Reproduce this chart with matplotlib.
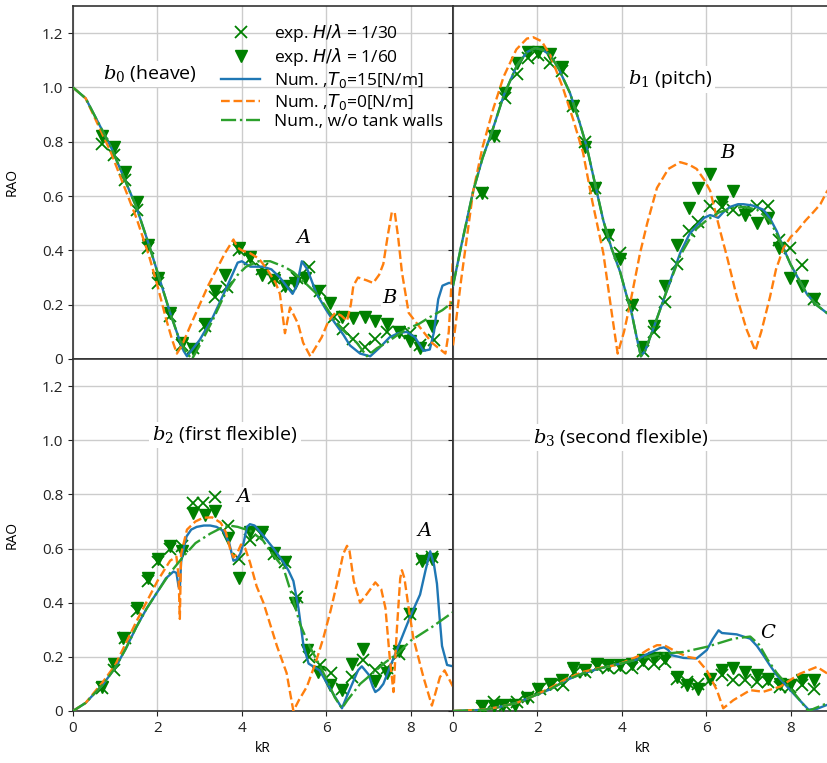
import matplotlib
matplotlib.use("Agg")
import matplotlib.pyplot as plt
import numpy as np

plt.rcParams['font.family'] = ['Open Sans', 'DejaVu Sans']

# ---------- b0 (heave) ----------
b0_blue_x = [0, 0.3, 0.6, 0.9, 1.2, 1.5, 1.8, 2.1, 2.3, 2.5, 2.62, 2.7, 2.8, 3.0, 3.3, 3.6, 3.8, 3.9, 4.0, 4.2, 4.5,
             4.7, 4.9, 5.1, 5.2, 5.3, 5.42, 5.55, 5.77, 6.0, 6.17, 6.4, 6.56, 6.8, 7.04, 7.25, 7.5, 7.7, 7.9, 8.1,
             8.3, 8.45, 8.55, 8.65, 8.75, 8.9, 9.0]
b0_blue_y = [1.0, 0.96, 0.87, 0.78, 0.67, 0.56, 0.42, 0.27, 0.17, 0.08, 0.03, 0.01, 0.03, 0.07, 0.15, 0.25, 0.32,
             0.355, 0.36, 0.34, 0.34, 0.33, 0.30, 0.26, 0.24, 0.27, 0.36, 0.33, 0.24, 0.18, 0.14, 0.09, 0.05, 0.02,
             0.01, 0.04, 0.08, 0.095, 0.10, 0.08, 0.03, 0.035, 0.10, 0.22, 0.27, 0.28, 0.28]
b0_orange_x = [0, 0.3, 0.6, 0.9, 1.2, 1.5, 1.8, 2.0, 2.2, 2.35, 2.46, 2.58, 2.8, 3.0, 3.2, 3.4, 3.6, 3.8, 3.9, 4.0,
               4.19, 4.4, 4.6, 4.8, 4.9, 5.02, 5.14, 5.33, 5.45, 5.62, 5.89, 6.05, 6.21, 6.35, 6.49, 6.58, 6.64,
               6.75, 6.95, 7.11, 7.25, 7.35, 7.45, 7.55, 7.62, 7.7, 7.79, 7.95, 8.1, 8.3, 8.5, 8.62, 8.82, 8.9, 9.0]
b0_orange_y = [1.0, 0.96, 0.86, 0.76, 0.64, 0.52, 0.38, 0.27, 0.15, 0.07, 0.02, 0.05, 0.13, 0.2, 0.27, 0.33, 0.39,
               0.44, 0.41, 0.40, 0.39, 0.37, 0.33, 0.28, 0.24, 0.095, 0.19, 0.13, 0.06, 0.01, 0.08, 0.14, 0.17,
               0.16, 0.14, 0.2, 0.27, 0.30, 0.29, 0.28, 0.31, 0.35, 0.45, 0.54, 0.54, 0.45, 0.32, 0.17, 0.14, 0.10,
               0.06, 0.045, 0.02, 0.1, 0.38]
b0_green_x = [0, 0.3, 0.6, 0.9, 1.2, 1.5, 1.8, 2.1, 2.3, 2.5, 2.7, 2.82, 3.0, 3.3, 3.6, 3.9, 4.1, 4.4, 4.67, 5.0,
              5.22, 5.5, 5.77, 6.0, 6.25, 6.5, 6.72, 6.96, 7.2, 7.43, 7.7, 7.9, 8.2, 8.46, 8.75, 9.0]
b0_green_y = [1.0, 0.96, 0.87, 0.78, 0.67, 0.56, 0.42, 0.27, 0.17, 0.08, 0.02, 0.0, 0.05, 0.14, 0.24, 0.31, 0.34,
              0.36, 0.36, 0.34, 0.32, 0.28, 0.24, 0.19, 0.13, 0.09, 0.06, 0.01, 0.04, 0.06, 0.09, 0.11, 0.13,
              0.155, 0.18, 0.21]
b0_tri_x = [0.68, 0.96, 1.23, 1.51, 1.78, 2.02, 2.3, 2.58, 2.85, 3.13, 3.36, 3.6, 3.92, 4.19, 4.47, 4.75, 5.02,
            5.26, 5.5, 5.81, 6.09, 6.37, 6.64, 6.92, 7.16, 7.43, 7.71, 7.99, 8.22, 8.5]
b0_tri_y = [0.82, 0.78, 0.69, 0.58, 0.42, 0.30, 0.17, 0.06, 0.035, 0.13, 0.25, 0.31, 0.41, 0.376, 0.31, 0.29,
            0.27, 0.28, 0.30, 0.25, 0.205, 0.155, 0.15, 0.155, 0.14, 0.13, 0.10, 0.065, 0.04, 0.12]
b0_x_x = [0.68, 0.96, 1.23, 1.51, 1.78, 2.02, 2.3, 2.58, 2.85, 3.13, 3.36, 3.64, 3.92, 4.19, 4.47, 4.75, 5.06,
          5.3, 5.58, 5.86, 6.17, 6.4, 6.64, 6.92, 7.16, 7.43, 7.71, 7.99, 8.22, 8.54]
b0_x_y = [0.79, 0.75, 0.66, 0.55, 0.41, 0.28, 0.16, 0.05, 0.04, 0.12, 0.23, 0.265, 0.40, 0.37, 0.33, 0.30, 0.27,
          0.30, 0.34, 0.25, 0.155, 0.11, 0.075, 0.045, 0.075, 0.10, 0.10, 0.095, 0.05, 0.07]

# ---------- b1 (pitch) ----------
b1_blue_x = [0, 0.2, 0.48, 0.7, 0.95, 1.2, 1.51, 1.75, 1.94, 2.1, 2.3, 2.5, 2.77, 3.0, 3.17, 3.4, 3.56, 3.75, 3.96,
             4.1, 4.23, 4.35, 4.45, 4.55, 4.74, 5.06, 5.38, 5.6, 5.77, 5.95, 6.09, 6.2, 6.28, 6.4, 6.56, 6.75,
             6.88, 7.1, 7.35, 7.5, 7.67, 7.85, 7.99, 8.2, 8.38, 8.6, 8.85, 9.0]
b1_blue_y = [0.27, 0.42, 0.62, 0.74, 0.85, 0.97, 1.08, 1.13, 1.145, 1.14, 1.12, 1.07, 0.98, 0.87, 0.78, 0.62, 0.51,
             0.41, 0.32, 0.24, 0.17, 0.08, 0.01, 0.03, 0.11, 0.25, 0.39, 0.46, 0.49, 0.52, 0.53, 0.525, 0.52,
             0.54, 0.56, 0.57, 0.57, 0.565, 0.55, 0.52, 0.47, 0.40, 0.35, 0.29, 0.24, 0.20, 0.17, 0.15]
b1_orange_x = [0, 0.2, 0.48, 0.7, 0.95, 1.2, 1.5, 1.75, 1.9, 2.1, 2.3, 2.6, 2.85, 3.08, 3.3, 3.56, 3.75, 3.9, 4.05,
               4.19, 4.43, 4.6, 4.83, 5.1, 5.38, 5.6, 5.77, 5.95, 6.09, 6.2, 6.33, 6.5, 6.72, 6.95, 7.16, 7.3,
               7.51, 7.65, 7.83, 8.0, 8.14, 8.35, 8.53, 8.7, 8.85, 9.0]
b1_orange_y = [0.05, 0.3, 0.62, 0.78, 0.92, 1.04, 1.14, 1.18, 1.185, 1.17, 1.12, 1.0, 0.88, 0.76, 0.58, 0.39, 0.18,
               0.02, 0.1, 0.2, 0.39, 0.5, 0.63, 0.7, 0.725, 0.715, 0.70, 0.66, 0.62, 0.55, 0.47, 0.37, 0.23, 0.11,
               0.03, 0.1, 0.23, 0.33, 0.41, 0.45, 0.47, 0.51, 0.54, 0.57, 0.615, 0.65]
b1_green_x = [0, 0.2, 0.48, 0.7, 0.95, 1.2, 1.51, 1.75, 1.94, 2.1, 2.3, 2.5, 2.77, 3.0, 3.17, 3.4, 3.56, 3.75, 3.96,
              4.1, 4.23, 4.35, 4.45, 4.55, 4.74, 5.06, 5.38, 5.6, 5.77, 6.0, 6.3, 6.6, 6.9, 7.2, 7.5, 7.67, 7.85,
              7.99, 8.2, 8.38, 8.6, 8.85, 9.0]
b1_green_y = [0.27, 0.42, 0.62, 0.74, 0.85, 0.97, 1.08, 1.13, 1.145, 1.14, 1.12, 1.07, 0.98, 0.87, 0.78, 0.62, 0.51,
              0.41, 0.32, 0.24, 0.17, 0.08, 0.01, 0.03, 0.11, 0.25, 0.38, 0.44, 0.48, 0.51, 0.54, 0.555, 0.56,
              0.55, 0.51, 0.46, 0.40, 0.35, 0.29, 0.24, 0.20, 0.17, 0.15]
b1_tri_x = [0.68, 0.96, 1.23, 1.51, 1.78, 2.02, 2.3, 2.58, 2.85, 3.13, 3.36, 3.67, 3.96, 4.23, 4.51, 4.75, 5.02,
            5.3, 5.58, 5.81, 6.09, 6.37, 6.64, 6.92, 7.2, 7.47, 7.71, 7.99, 8.26, 8.54]
b1_tri_y = [0.61, 0.82, 0.98, 1.09, 1.13, 1.13, 1.125, 1.075, 0.93, 0.78, 0.63, 0.455, 0.37, 0.2, 0.045, 0.12,
            0.27, 0.42, 0.555, 0.63, 0.68, 0.58, 0.62, 0.53, 0.50, 0.52, 0.41, 0.30, 0.27, 0.22]
b1_x_x = b1_tri_x
b1_x_y = [0.61, 0.82, 0.96, 1.05, 1.11, 1.12, 1.09, 1.06, 0.93, 0.80, 0.63, 0.455, 0.39, 0.2, 0.03, 0.10, 0.21,
          0.35, 0.47, 0.505, 0.565, 0.56, 0.55, 0.55, 0.565, 0.565, 0.44, 0.41, 0.345, 0.22]

# ---------- b2 (first flexible) ----------
b2_blue_x = [0, 0.3, 0.72, 1.0, 1.25, 1.5, 1.75, 2.0, 2.2, 2.38, 2.45, 2.5, 2.53, 2.56, 2.62, 2.69, 2.8, 2.93, 3.1,
             3.25, 3.4, 3.56, 3.7, 3.8, 3.88, 3.96, 4.04, 4.12, 4.19, 4.3, 4.51, 4.75, 4.98, 5.1, 5.22, 5.34,
             5.46, 5.58, 5.84, 6.11, 6.37, 6.5, 6.64, 6.75, 6.84, 6.92, 7.0, 7.1, 7.16, 7.25, 7.35, 7.5, 7.67,
             7.99, 8.22, 8.35, 8.46, 8.55, 8.62, 8.68, 8.74, 8.86, 9.0]
b2_blue_y = [0, 0.03, 0.10, 0.16, 0.23, 0.31, 0.38, 0.44, 0.49, 0.515, 0.51, 0.46, 0.45, 0.55, 0.60, 0.645, 0.67,
             0.68, 0.685, 0.685, 0.68, 0.665, 0.62, 0.555, 0.56, 0.58, 0.62, 0.68, 0.69, 0.685, 0.647, 0.60, 0.55,
             0.52, 0.48, 0.38, 0.24, 0.175, 0.15, 0.077, 0.01, 0.06, 0.11, 0.15, 0.165, 0.15, 0.135, 0.09, 0.07,
             0.08, 0.10, 0.16, 0.225, 0.35, 0.43, 0.52, 0.59, 0.54, 0.47, 0.35, 0.24, 0.17, 0.165]
b2_orange_x = [0, 0.3, 0.72, 1.0, 1.5, 2.0, 2.3, 2.45, 2.5, 2.53, 2.56, 2.7, 2.9, 3.09, 3.3, 3.5, 3.62, 3.72, 3.8,
               3.88, 3.98, 4.08, 4.19, 4.35, 4.51, 4.67, 4.83, 5.06, 5.15, 5.22, 5.35, 5.54, 5.75, 5.93, 6.1, 6.25,
               6.4, 6.49, 6.55, 6.65, 6.8, 6.95, 7.16, 7.3, 7.4, 7.5, 7.59, 7.67, 7.75, 7.79, 7.85, 7.95, 8.06,
               8.3, 8.5, 8.69, 8.8, 9.0]
b2_orange_y = [0, 0.03, 0.11, 0.17, 0.33, 0.48, 0.555, 0.57, 0.50, 0.34, 0.58, 0.67, 0.70, 0.714, 0.715, 0.695,
               0.66, 0.60, 0.567, 0.58, 0.615, 0.60, 0.55, 0.46, 0.40, 0.32, 0.24, 0.14, 0.06, 0.0, 0.04, 0.09,
               0.18, 0.27, 0.37, 0.47, 0.58, 0.61, 0.59, 0.48, 0.40, 0.43, 0.475, 0.45, 0.38, 0.2, 0.07, 0.3,
               0.49, 0.52, 0.49, 0.38, 0.27, 0.125, 0.02, 0.125, 0.15, 0.09]
b2_green_x = [0, 0.3, 0.72, 1.0, 1.25, 1.5, 1.75, 2.0, 2.3, 2.61, 2.9, 3.25, 3.5, 3.7, 3.9, 4.2, 4.5, 4.67, 4.98,
              5.2, 5.38, 5.6, 5.77, 6.0, 6.2, 6.37, 6.5, 6.8, 7.1, 7.4, 7.67, 8.0, 8.5, 9.0]
b2_green_y = [0, 0.03, 0.10, 0.16, 0.23, 0.31, 0.38, 0.44, 0.51, 0.57, 0.62, 0.655, 0.675, 0.685, 0.68, 0.665,
              0.63, 0.59, 0.53, 0.42, 0.32, 0.24, 0.19, 0.12, 0.05, 0.01, 0.04, 0.10, 0.14, 0.18, 0.21, 0.26,
              0.31, 0.365]
b2_tri_x = [0.68, 0.96, 1.19, 1.51, 1.78, 2.02, 2.3, 2.58, 2.85, 3.13, 3.36, 3.68, 3.92, 4.19, 4.47, 4.75, 5.02,
            5.26, 5.54, 5.81, 6.09, 6.37, 6.6, 6.88, 7.16, 7.43, 7.71, 7.99, 8.26, 8.5]
b2_tri_y = [0.09, 0.175, 0.27, 0.38, 0.49, 0.56, 0.61, 0.59, 0.73, 0.725, 0.74, 0.64, 0.49, 0.66, 0.66, 0.585,
            0.55, 0.40, 0.225, 0.145, 0.095, 0.077, 0.175, 0.23, 0.11, 0.14, 0.22, 0.36, 0.555, 0.56]
b2_x_x = [0.68, 0.96, 1.23, 1.51, 1.78, 2.02, 2.3, 2.58, 2.85, 3.09, 3.36, 3.68, 3.92, 4.19, 4.47, 4.75, 5.02,
          5.3, 5.58, 5.86, 6.1, 6.37, 6.6, 6.88, 7.16, 7.43, 7.71, 7.99, 8.26, 8.5]
b2_x_y = [0.085, 0.15, 0.27, 0.37, 0.48, 0.55, 0.60, 0.61, 0.77, 0.77, 0.79, 0.685, 0.56, 0.63, 0.65, 0.58, 0.55,
          0.42, 0.20, 0.17, 0.14, 0.08, 0.125, 0.19, 0.15, 0.16, 0.21, 0.36, 0.56, 0.57]

# ---------- b3 (second flexible) ----------
b3_blue_x = [0, 0.72, 1.1, 1.51, 1.9, 2.3, 2.7, 3.09, 3.5, 3.88, 4.35, 4.6, 4.9, 5.0, 5.1, 5.18, 5.46, 5.77, 6.01,
             6.15, 6.29, 6.37, 6.72, 7.04, 7.2, 7.35, 7.5, 7.67, 8.06, 8.3, 8.42, 8.62, 8.85, 9.0]
b3_blue_y = [0, 0.004, 0.015, 0.03, 0.055, 0.08, 0.115, 0.14, 0.158, 0.172, 0.19, 0.21, 0.232, 0.235, 0.225, 0.206,
             0.196, 0.194, 0.225, 0.265, 0.298, 0.288, 0.283, 0.267, 0.24, 0.206, 0.17, 0.132, 0.065, 0.025,
             0.005, 0.008, 0.022, 0.025]
b3_orange_x = [0, 0.72, 1.1, 1.51, 1.9, 2.3, 2.7, 3.09, 3.5, 3.88, 4.35, 4.6, 4.83, 5.0, 5.3, 5.55, 5.77, 6.01,
               6.25, 6.4, 6.64, 7.04, 7.35, 7.75, 8.22, 8.62, 8.85, 9.0]
b3_orange_y = [0, 0.005, 0.015, 0.03, 0.055, 0.085, 0.12, 0.145, 0.16, 0.17, 0.2, 0.225, 0.243, 0.243, 0.218, 0.2,
               0.194, 0.15, 0.077, 0.01, 0.04, 0.077, 0.071, 0.09, 0.138, 0.163, 0.14, 0.12]
b3_green_x = [0, 0.72, 1.1, 1.51, 1.9, 2.3, 2.7, 3.09, 3.5, 3.88, 4.35, 4.9, 5.46, 6.01, 6.64, 7.04, 7.25, 7.45,
              7.67, 8.06, 8.42, 8.6, 8.85, 9.0]
b3_green_y = [0, 0.004, 0.015, 0.03, 0.055, 0.08, 0.115, 0.14, 0.158, 0.172, 0.19, 0.21, 0.218, 0.237, 0.267,
              0.275, 0.245, 0.19, 0.14, 0.07, 0.0, 0.012, 0.028, 0.03]
b3_tri_x = [0.68, 0.96, 1.19, 1.47, 1.75, 2.02, 2.3, 2.57, 2.85, 3.13, 3.4, 3.68, 3.96, 4.23, 4.51, 4.75, 5.02,
            5.3, 5.54, 5.81, 6.09, 6.37, 6.64, 6.92, 7.2, 7.47, 7.75, 7.99, 8.26, 8.54]
b3_tri_y = [0.018, 0.02, 0.022, 0.022, 0.047, 0.083, 0.10, 0.114, 0.157, 0.15, 0.175, 0.169, 0.169, 0.175, 0.187,
            0.194, 0.194, 0.125, 0.096, 0.083, 0.12, 0.15, 0.157, 0.145, 0.132, 0.12, 0.10, 0.096, 0.114, 0.114]
b3_x_x = [0.68, 0.96, 1.23, 1.51, 1.78, 2.06, 2.34, 2.61, 2.89, 3.13, 3.4, 3.68, 3.96, 4.23, 4.51, 4.75, 5.02,
          5.3, 5.54, 5.81, 6.09, 6.37, 6.64, 6.92, 7.2, 7.47, 7.75, 7.99, 8.26, 8.54]
b3_x_y = [0.01, 0.034, 0.022, 0.034, 0.053, 0.083, 0.096, 0.096, 0.145, 0.145, 0.163, 0.157, 0.157, 0.157, 0.175,
          0.175, 0.18, 0.12, 0.108, 0.10, 0.115, 0.132, 0.114, 0.114, 0.108, 0.108, 0.09, 0.09, 0.096, 0.083]

panels = [
    (b0_blue_x, b0_blue_y, b0_orange_x, b0_orange_y, b0_green_x, b0_green_y, b0_x_x, b0_x_y, b0_tri_x, b0_tri_y),
    (b1_blue_x, b1_blue_y, b1_orange_x, b1_orange_y, b1_green_x, b1_green_y, b1_x_x, b1_x_y, b1_tri_x, b1_tri_y),
    (b2_blue_x, b2_blue_y, b2_orange_x, b2_orange_y, b2_green_x, b2_green_y, b2_x_x, b2_x_y, b2_tri_x, b2_tri_y),
    (b3_blue_x, b3_blue_y, b3_orange_x, b3_orange_y, b3_green_x, b3_green_y, b3_x_x, b3_x_y, b3_tri_x, b3_tri_y),
]
titles = ['$b_0$ (heave)', '$b_1$ (pitch)', '$b_2$ (first flexible)', '$b_3$ (second flexible)']
title_pos = [(1.82, 1.05), (5.14, 1.03), (3.6, 1.02), (3.96, 1.01)]
notes = [[('A', 5.45, 0.445), ('B', 7.51, 0.225)], [('B', 6.52, 0.757)],
         [('A', 4.03, 0.79), ('A', 8.32, 0.665)], [('C', 7.46, 0.287)]]

fig = plt.figure(figsize=(8.28, 7.63), dpi=100)
W, H = 828, 763
rects = [(73, 6, 380, 353), (453, 6, 380, 353), (73, 359, 380, 352), (453, 359, 380, 352)]
axes = []
for i, (px, py, pw, ph) in enumerate(rects):
    ax = fig.add_axes([px / W, 1 - (py + ph) / H, pw / W, ph / H])
    axes.append(ax)
    bx, by, ox, oy, gx, gy, xx, xy, tx, ty = panels[i]
    ax.grid(True, color='#cccccc', linewidth=1.0)
    ax.set_axisbelow(True)
    ax.plot(xx, xy, 'x', color='green', ms=8.5, mew=1.3, label='exp. $H/\\lambda$ = 1/30', zorder=3)
    ax.plot(tx, ty, 'v', color='green', ms=8.5, label='exp. $H/\\lambda$ = 1/60', zorder=3)
    ax.plot(bx, by, '-', color='#1f77b4', lw=1.7, label='Num. ,$T_0$=15[N/m]', zorder=4)
    ax.plot(ox, oy, '--', color='#ff7f0e', lw=1.7, label='Num. ,$T_0$=0[N/m]', zorder=4)
    ax.plot(gx, gy, '-.', color='#2ca02c', lw=1.7, label='Num., w/o tank walls', zorder=4)
    ax.set_xlim(0, 9)
    ax.set_ylim(0, 1.3)
    ax.set_xticks([0, 2, 4, 6, 8])
    ax.set_yticks([0, 0.2, 0.4, 0.6, 0.8, 1.0, 1.2])
    ax.set_yticklabels(['0', '0.2', '0.4', '0.6', '0.8', '1.0', '1.2'])
    ax.tick_params(labelsize=11, colors='#222222')
    for s in ax.spines.values():
        s.set_color('#333333')
        s.set_linewidth(1.2)
    if i % 2 == 1:
        ax.tick_params(labelleft=False)
    else:
        ax.set_ylabel('RAO', fontsize=10)
        ax.yaxis.set_label_coords(-0.14, 0.5)
    if i < 2:
        ax.tick_params(axis='x', labelbottom=False, length=0)
    else:
        ax.set_xlabel('kR', fontsize=10)
    tx0, ty0 = title_pos[i]
    ax.text(tx0, ty0, titles[i], fontsize=14, ha='center', va='center', math_fontfamily='dejavuserif',
            bbox=dict(facecolor='white', edgecolor='none', pad=2), zorder=5)
    for lab, nx, ny in notes[i]:
        ax.text(nx, ny, '$' + lab + '$', fontsize=14, ha='center', va='center', math_fontfamily='dejavuserif',
                bbox=dict(facecolor='white', edgecolor='none', pad=0.5, alpha=0.9), zorder=5)

leg = axes[0].legend(loc='upper right', bbox_to_anchor=(1.0, 0.985), frameon=False, fontsize=12.5,
                     handlelength=2.2, labelspacing=0.12, borderaxespad=0.2, handletextpad=0.8)

fig.savefig('out.png', dpi=100)
